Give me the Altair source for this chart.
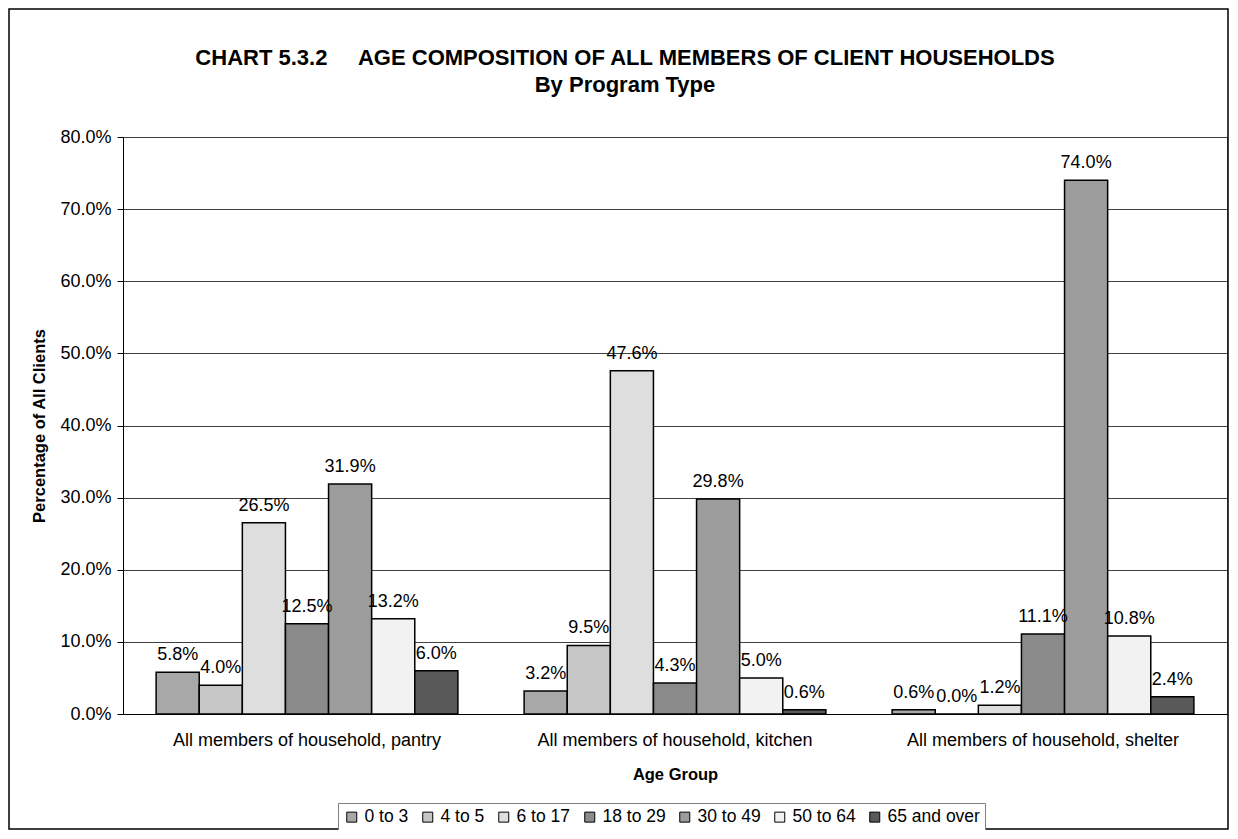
import altair as alt
import pandas as pd

programs = [
    "All members of household, pantry",
    "All members of household, kitchen",
    "All members of household, shelter",
]
ages = ["0 to 3", "4 to 5", "6 to 17", "18 to 29", "30 to 49", "50 to 64", "65 and over"]
pantry = [5.8, 4.0, 26.5, 12.5, 31.9, 13.2, 6.0]
kitchen = [3.2, 9.5, 47.6, 4.3, 29.8, 5.0, 0.6]
shelter = [0.6, 0.0, 1.2, 11.1, 74.0, 10.8, 2.4]
colors = ["#a8a8a8", "#c6c6c6", "#dedede", "#8a8a8a", "#9c9c9c", "#f2f2f2", "#595959"]

rows = []
for prog, vals in zip(programs, [pantry, kitchen, shelter]):
    for age, v in zip(ages, vals):
        rows.append({"program": prog, "age": age, "value": v / 100.0})
df = pd.DataFrame(rows)

FONT = "Liberation Sans"
FS = 18
W, H = 1104, 577
L, T = 115, 129
R, B = 2, 116

x_enc = alt.X(
    "program:N",
    sort=programs,
    scale=alt.Scale(paddingInner=0.18, paddingOuter=0.09),
    axis=alt.Axis(
        title="Age Group",
        labelAngle=0,
        ticks=False,
        labelLimit=0,
        labelPadding=17,
        labelFontSize=FS,
        labelFont=FONT,
        labelColor="black",
        titleFont=FONT,
        titleFontSize=16.5,
        titleFontWeight="bold",
        titleColor="black",
        titlePadding=17,
        domainColor="black",
    ),
)
xo_enc = alt.XOffset("age:N", sort=ages, scale=alt.Scale(paddingInner=0, paddingOuter=0))
y_enc = alt.Y(
    "value:Q",
    scale=alt.Scale(domain=[0, 0.8], nice=False),
    axis=alt.Axis(
        title="Percentage of All Clients",
        format=".1%",
        values=[i / 10 for i in range(9)],
        tickSize=6,
        tickColor="black",
        labelPadding=6,
        labelFontSize=FS,
        labelFont=FONT,
        labelColor="black",
        titleFont=FONT,
        titleFontSize=16.5,
        titleFontWeight="bold",
        titleColor="black",
        titlePadding=12,
        domainColor="black",
        gridColor="#404040",
        gridOpacity=1,
    ),
)

bars = alt.Chart(df).mark_bar(stroke="black", strokeWidth=1.5).encode(
    x=x_enc,
    xOffset=xo_enc,
    y=y_enc,
    color=alt.Color(
        "age:N",
        sort=ages,
        scale=alt.Scale(domain=ages, range=colors),
        legend=alt.Legend(
            title=None,
            orient="none",
            legendX=215,
            legendY=666,
            direction="horizontal",
            symbolType="square",
            symbolSize=100,
            symbolStrokeColor="black",
            symbolStrokeWidth=1,
            labelFontSize=17.5,
            labelFont=FONT,
            labelColor="black",
            labelOffset=4,
            columnPadding=10,
            padding=5,
            strokeColor="#808080",
            fillColor="white",
        ),
    ),
)

labels = alt.Chart(df).mark_text(
    baseline="alphabetic", dy=-12, fontSize=FS, font=FONT, color="black"
).encode(
    x=alt.X("program:N", sort=programs),
    xOffset=alt.XOffset("age:N", sort=ages),
    y="value:Q",
    text=alt.Text("value:Q", format=".1%"),
)

frame = alt.Chart(pd.DataFrame({"k": [0]})).mark_rect(
    fill=None, stroke="black", strokeWidth=1.5
).encode(
    x=alt.value(-L + 1),
    x2=alt.value(W + R - 1),
    y=alt.value(-T + 1),
    y2=alt.value(H + B - 1),
)

title = alt.Title(
    text="CHART 5.3.2" + "\u00a0" * 5 + "AGE COMPOSITION OF ALL MEMBERS OF CLIENT HOUSEHOLDS",
    subtitle="By Program Type",
    font=FONT,
    fontSize=22,
    fontWeight="bold",
    color="black",
    subtitleFont=FONT,
    subtitleFontSize=22,
    subtitleFontWeight="bold",
    subtitleColor="black",
    subtitlePadding=5,
    anchor="middle",
    frame="group",
    dx=-50,
    offset=-89,
)

chart = (
    alt.layer(frame, bars, labels)
    .properties(
        width=W,
        height=H,
        title=title,
        padding={"left": L, "top": T, "right": R, "bottom": B},
        autosize=alt.AutoSizeParams(type="none"),
    )
    .configure_view(stroke="#808080", strokeWidth=1)
)

chart.save("out.html", embed_options={"renderer": "svg", "actions": False})
